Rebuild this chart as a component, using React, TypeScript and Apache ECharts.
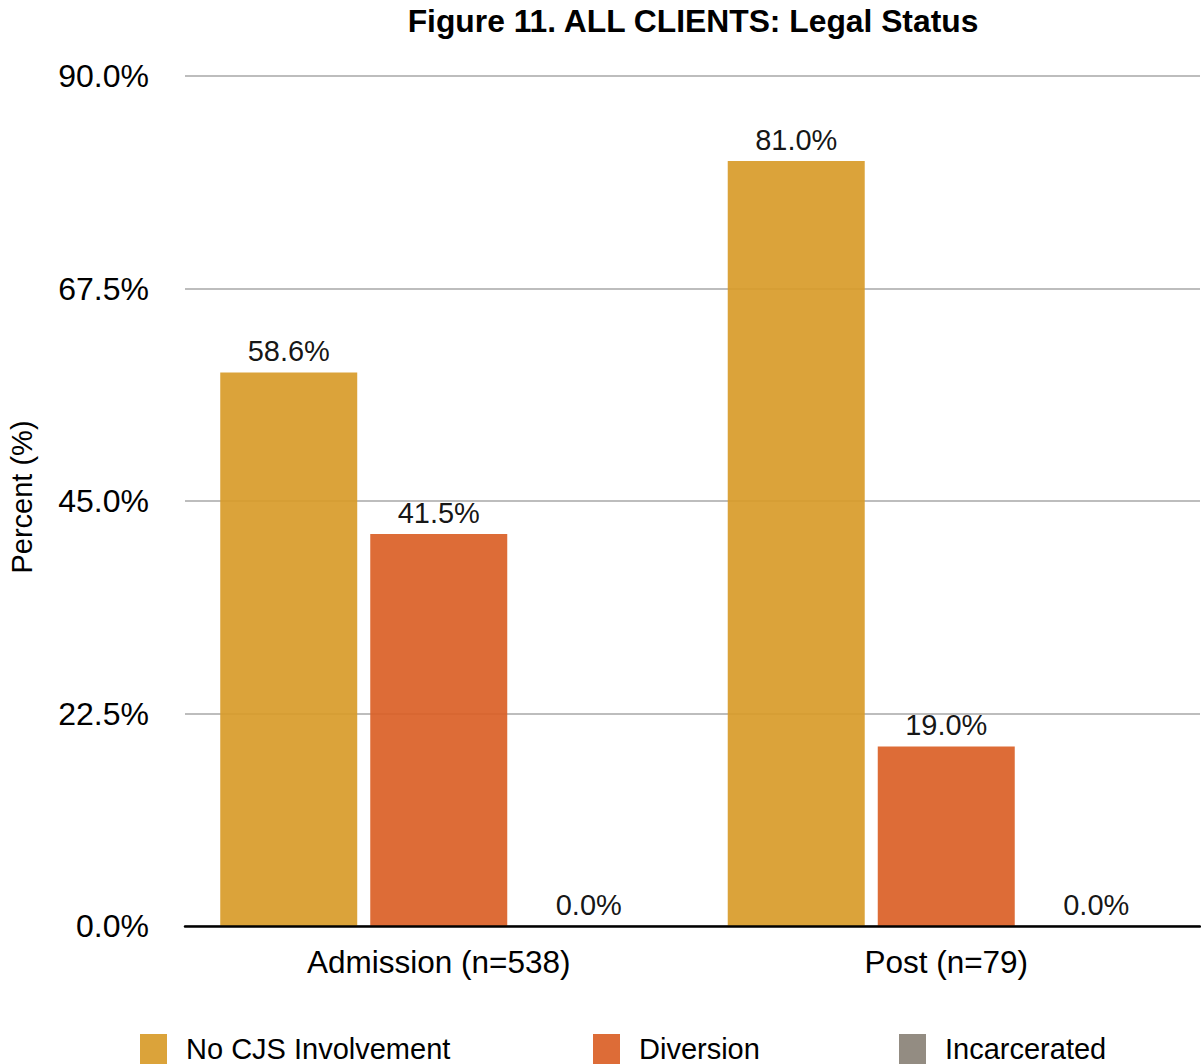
import React, { useEffect, useRef } from "react";
import * as echarts from "echarts";

const categories = ["Admission (n=538)", "Post (n=79)"];
const seriesNames = ["No CJS Involvement", "Diversion", "Incarcerated"];
const noCjsValues = [58.6, 81.0];
const diversionValues = [41.5, 19.0];
const incarceratedValues = [0.0, 0.0];
const yTicks = [0, 22.5, 45, 67.5, 90];

const FONT = "'Liberation Sans', Arial, Helvetica, sans-serif";
const colors = ["#d89b29", "#da6026", "#8a8277"];

export default function App() {
  const ref = useRef<HTMLDivElement>(null);

  useEffect(() => {
    if (!ref.current) return;
    const chart = echarts.init(ref.current, null, { renderer: "svg" });

    const values = [noCjsValues, diversionValues, incarceratedValues];
    const series = seriesNames.map((name, i) => ({
      name,
      type: "bar" as const,
      data: values[i],
      barWidth: 137,
      barGap: "9.5%",
      itemStyle: { color: colors[i], opacity: 0.92 },
      label: {
        show: true,
        position: "top" as const,
        distance: 7,
        color: "#000",
        fontFamily: FONT,
        fontSize: 29,
        formatter: (p: any) => `${Number(p.value).toFixed(1)}%`,
      },
    }));

    const legendLefts = [140, 593, 899];
    const legend = seriesNames.map((name, i) => ({
      data: [name],
      left: legendLefts[i],
      top: 1034,
      padding: 0,
      itemWidth: 27,
      itemHeight: 30,
      icon: "rect",
      itemStyle: { opacity: 0.92 },
      textStyle: {
        color: "#000",
        fontFamily: FONT,
        fontSize: 29,
        padding: [0, 0, 0, 14],
      },
      selectedMode: false,
    }));

    chart.setOption({
      animation: false,
      color: colors,
      grid: { left: 185, right: 1, top: 76, bottom: 138, containLabel: false },
      legend,
      xAxis: {
        type: "category",
        data: categories,
        axisLine: { show: true, lineStyle: { color: "#000", width: 2.5 } },
        axisTick: { show: false },
        axisLabel: {
          color: "#000",
          fontFamily: FONT,
          fontSize: 31.5,
          margin: 20,
        },
        z: 5,
      },
      yAxis: {
        type: "value",
        min: yTicks[0],
        max: yTicks[yTicks.length - 1],
        interval: 22.5,
        axisLine: { show: false },
        axisTick: { show: false },
        splitLine: { show: true, lineStyle: { color: "#bdbdbd", width: 2 } },
        axisLabel: {
          color: "#000",
          fontFamily: FONT,
          fontSize: 32,
          margin: 36,
          formatter: (v: number) => `${v.toFixed(1)}%`,
        },
      },
      graphic: [
        {
          type: "text",
          x: 693,
          y: 21,
          style: {
            text: "Figure 11. ALL CLIENTS: Legal Status",
            fill: "#000",
            font: `bold 31.8px ${FONT}`,
            align: "center",
            verticalAlign: "middle",
          },
        },
        {
          type: "text",
          x: 22,
          y: 497,
          rotation: Math.PI / 2,
          style: {
            text: "Percent (%)",
            fill: "#000",
            font: `29px ${FONT}`,
            align: "center",
            verticalAlign: "middle",
          },
        },
      ],
      series,
    });

    return () => chart.dispose();
  }, []);

  return (
    <div
      ref={ref}
      style={{
        position: "fixed",
        left: 0,
        top: 0,
        width: 1201,
        height: 1064,
        background: "#fff",
      }}
    />
  );
}
